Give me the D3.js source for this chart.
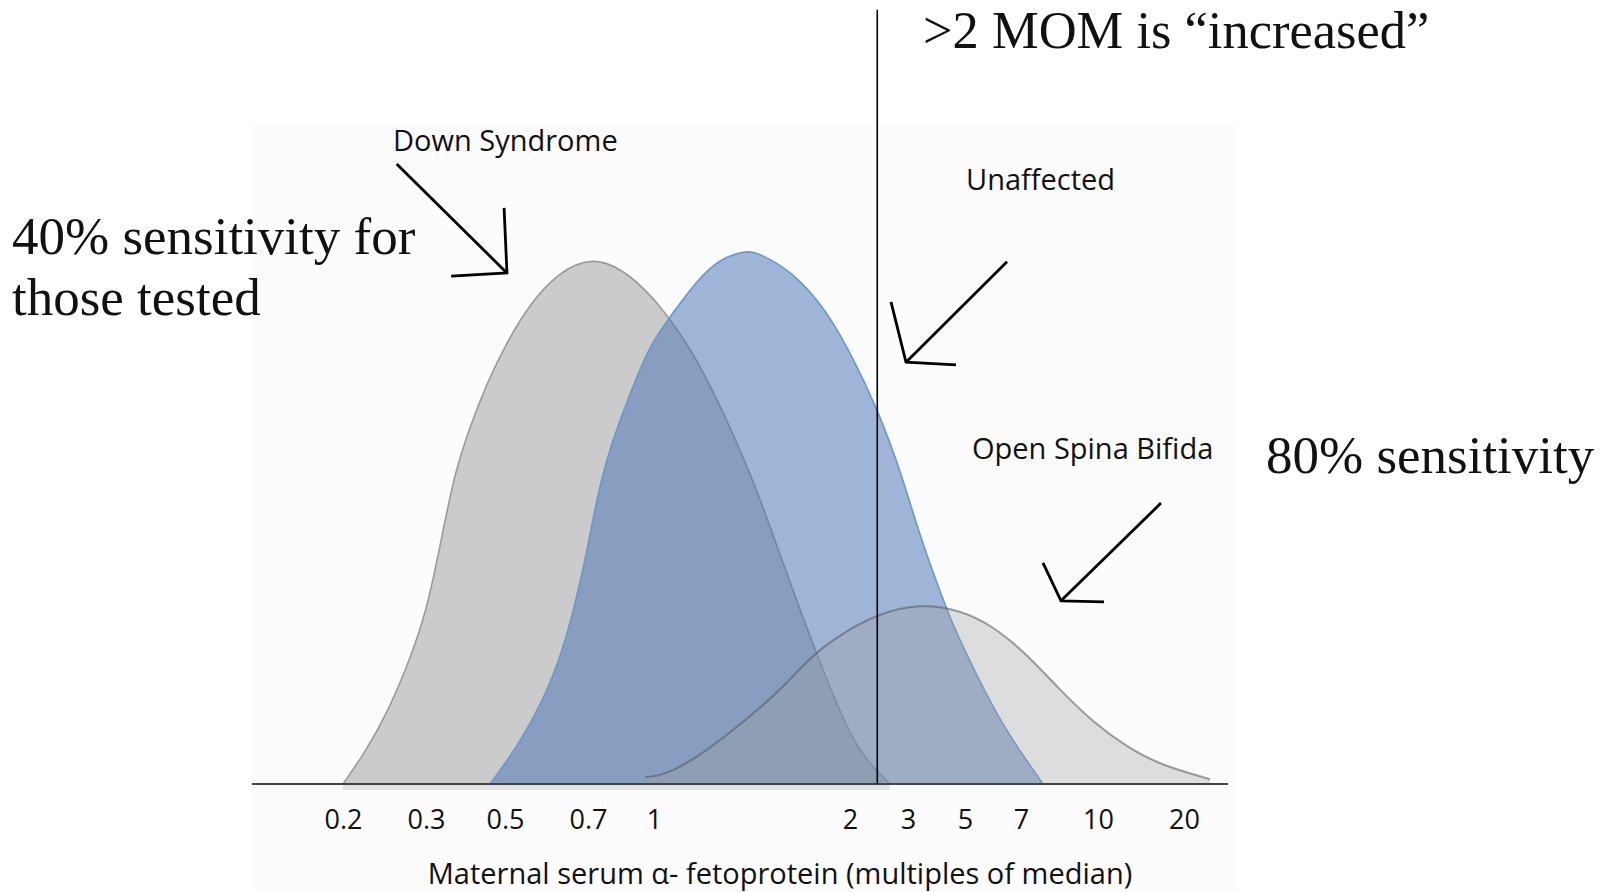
<!DOCTYPE html>
<html><head><meta charset="utf-8">
<script src="https://cdn.jsdelivr.net/npm/d3@7"></script>
<style>body{margin:0;background:#fff;} svg{display:block}</style>
</head><body>
<svg id="chart" width="1611" height="892"></svg>
<script>
// ---------- DATA (x in multiples of median, y = relative frequency) ----------
const tickValues = [0.2, 0.3, 0.5, 0.7, 1, 2, 3, 5, 7, 10, 20];
const tickLabels = ["0.2", "0.3", "0.5", "0.7", "1", "2", "3", "5", "7", "10", "20"];

const downX = [0.2, 0.223, 0.249, 0.280, 0.302, 0.322, 0.339, 0.362, 0.399, 0.445, 0.504, 0.553, 0.617, 0.719, 0.878, 1.032, 1.164, 1.308, 1.439, 1.562, 1.676, 1.798, 1.931, 2.145, 2.645];
const downY = [0, 6.0, 13.5, 24.2, 33.0, 41.8, 49.1, 58.4, 67.0, 75.1, 82.8, 89.9, 95.6, 99.0, 95.6, 89.1, 79.8, 67.0, 55.1, 42.9, 32.6, 22.8, 13.5, 5.6, 0];

const unaffX = [0.454, 0.525, 0.583, 0.632, 0.669, 0.697, 0.735, 0.788, 0.878, 0.979, 1.069, 1.164, 1.263, 1.389, 1.455, 1.635, 1.844, 2.042, 2.415, 2.836, 3.341, 3.890, 4.490, 5.374, 6.283, 7.196, 7.75];
const unaffY = [0, 6.9, 15.5, 24.9, 35.0, 43.6, 53.7, 63.1, 73.0, 82.4, 88.2, 94.3, 98.4, 100.0, 99.3, 95.9, 88.6, 79.8, 70.4, 59.0, 46.4, 37.6, 29.6, 20.2, 10.9, 4.3, 0];

const osbX = [0.953, 1.032, 1.164, 1.308, 1.455, 1.601, 1.755, 1.951, 2.415, 3.341, 4.780, 5.916, 7.196, 8.386, 9.77, 12.64, 16.48, 24.66];
const osbY = [1.3, 1.5, 4.9, 9.6, 14.2, 18.9, 24.3, 28.3, 31.8, 33.8, 32.6, 29.6, 24.3, 17.6, 11.6, 6.9, 3.6, 0.9];

const cutoffMOM = 2.42;   // vertical ">2 MOM" line as drawn
const cutoffTop = 145;

// annotation arrows in data units: tail, tip, barb1, barb2
const arrowDown  = [[0.260, 116.1], [0.504, 95.7], [0.497, 107.9], [0.353, 95.1]];
const arrowUnaff = [[6.435, 97.8], [2.958, 79.0], [2.664, 90.3], [4.613, 78.5]];
const arrowOsb   = [[16.61, 52.6], [8.425, 34.3], [7.75, 41.4], [10.50, 34.1]];

// ---------- LAYOUT ----------
const tickPx = [343, 426, 505, 588, 654, 850, 908, 965, 1021, 1098, 1184];
const baseY = 784, topY = 250, frameL = 252, frameR = 1228;

const svg = d3.select("#chart");
const x = d3.scaleLog().domain(tickValues).range(tickPx);
const y = d3.scaleLinear().domain([0, 100]).range([baseY, topY]);

// faint picture background
svg.append("rect").attr("x", 252).attr("y", 123).attr("width", 986).attr("height", 769).attr("fill", "#fcfcfc");

const zip = (xs, ys) => xs.map((v, i) => [v, ys[i]]);
const curve = d3.curveBasis;
const area = d3.area().x(d => x(d[0])).y0(y(0)).y1(d => y(d[1])).curve(curve);
const line = d3.line().x(d => x(d[0])).y(d => y(d[1])).curve(curve);

const down = zip(downX, downY), unaff = zip(unaffX, unaffY), osb = zip(osbX, osbY);

// faint shadow of the Down syndrome shape below the axis
svg.append("rect").attr("x", x(downX[0])).attr("y", y(0)).attr("width", x(downX[downX.length - 1]) - x(downX[0]))
  .attr("height", y(-1.1) - y(0)).attr("fill", "#e2e2e2");

// Down syndrome
svg.append("path").attr("d", area(down)).attr("fill", "#cbcbcb");
svg.append("path").attr("d", line(down)).attr("fill", "none").attr("stroke", "#9a9a9a").attr("stroke-width", 1.6);
// Unaffected
svg.append("path").attr("d", area(unaff)).attr("fill", "rgb(77,121,183)").attr("fill-opacity", 0.54);
svg.append("path").attr("d", line(unaff)).attr("fill", "none").attr("stroke", "#6c96cc").attr("stroke-width", 1.6);
// Open spina bifida
svg.append("path").attr("d", area(osb)).attr("fill", "rgb(157,157,157)").attr("fill-opacity", 0.33);
svg.append("path").attr("d", line(osb)).attr("fill", "none").attr("stroke", "#555").attr("stroke-opacity", 0.55).attr("stroke-width", 2);

// baseline
svg.append("line").attr("x1", frameL).attr("x2", frameR).attr("y1", baseY).attr("y2", baseY)
  .attr("stroke", "#444").attr("stroke-width", 2);

// cutoff line
svg.append("line").attr("x1", x(cutoffMOM)).attr("x2", x(cutoffMOM)).attr("y1", y(0)).attr("y2", y(cutoffTop))
  .attr("stroke", "#000").attr("stroke-width", 1.6);

// axis
const axis = d3.axisBottom(x).tickValues(tickValues).tickFormat((d, i) => tickLabels[i]).tickSize(0).tickPadding(26);
const gAx = svg.append("g").attr("transform", `translate(0,${baseY})`).call(axis);
gAx.select(".domain").remove();
gAx.selectAll("text").attr("font-family", "'Open Sans', sans-serif").attr("font-size", 27).attr("fill", "#111");

// arrows
const arrowLine = d3.line().x(d => x(d[0])).y(d => y(d[1]));
[arrowDown, arrowUnaff, arrowOsb].forEach(a => {
  svg.append("path").attr("d", arrowLine([a[0], a[1]])).attr("stroke", "#000").attr("stroke-width", 2.8).attr("fill", "none");
  svg.append("path").attr("d", arrowLine([a[2], a[1], a[3]])).attr("stroke", "#000").attr("stroke-width", 2.8).attr("fill", "none").attr("stroke-linejoin", "miter");
});

// labels
const sans = "'Open Sans', sans-serif", serif = "'Liberation Serif', 'Times New Roman', serif";
function txt(t, px, py, font, size, anchor) {
  svg.append("text").attr("x", px).attr("y", py).attr("font-family", font).attr("font-size", size)
    .attr("text-anchor", anchor || "start").attr("fill", "#111").text(t);
}
txt("Down Syndrome", 393, 151, sans, 29);
txt("Unaffected", 966, 190, sans, 29);
txt("Open Spina Bifida", 972, 459, sans, 29);
txt("Maternal serum \u03B1- fetoprotein (multiples of median)", 780, 884, sans, 29, "middle");

txt(">2 MOM is \u201Cincreased\u201D", 923, 48, serif, 52.5);
txt("40% sensitivity for", 12, 254, serif, 53);
txt("those tested", 12, 315, serif, 53);
txt("80% sensitivity", 1266, 473, serif, 53);
</script>
</body></html>
